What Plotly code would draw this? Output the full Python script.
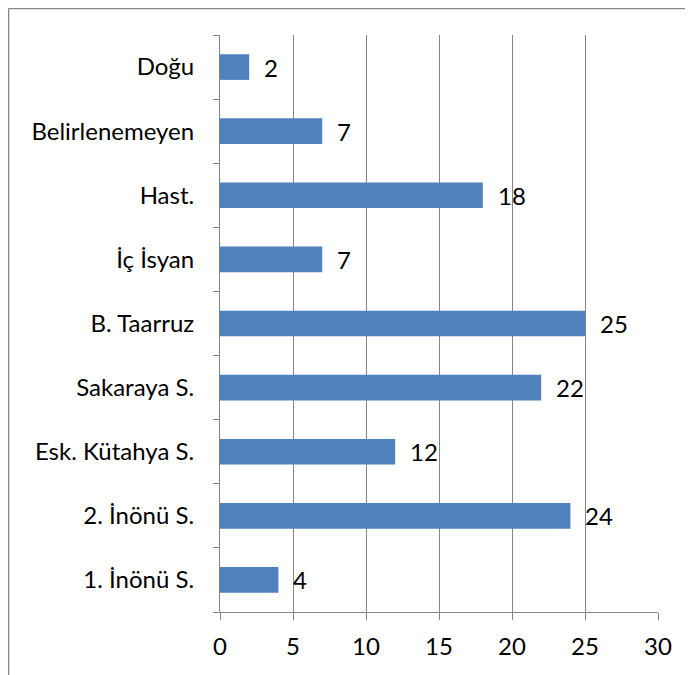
import plotly.graph_objects as go

categories = ["1. İnönü S.", "2. İnönü S.", "Esk. Kütahya S.", "Sakaraya S.", "B. Taarruz",
              "İç İsyan", "Hast.", "Belirlenemeyen", "Doğu"]
values = [4, 24, 12, 22, 25, 7, 18, 7, 2]
x_ticks = [0, 5, 10, 15, 20, 25, 30]

FONT = "Lato, Open Sans, sans-serif"
FS = 24

# page has an 8px body margin; figure is sized so it fills the window exactly
W, H = 685, 667
L, R, T, B = 212, 35, 27, 63
PW, PH = W - L - R, H - T - B

fig = go.Figure()
fig.add_trace(go.Bar(
    y=categories, x=values, orientation="h",
    marker=dict(color="#4F81BD", line=dict(width=0)),
    width=0.4,
))

annotations = []
for c, v in zip(categories, values):
    annotations.append(dict(x=v, y=c, xref="x", yref="y", text=str(v), showarrow=False,
                            xanchor="left", xshift=13, font=dict(size=FS, color="black", family=FONT)))

fx = lambda px: (px - L) / PW
fy = lambda py: (H - B - py) / PH

fig.update_layout(
    width=W, height=H,
    margin=dict(l=L, r=R, t=T, b=B),
    paper_bgcolor="white", plot_bgcolor="white",
    showlegend=False,
    font=dict(family=FONT, size=FS, color="black"),
    annotations=annotations,
    xaxis=dict(range=[0, 30], tickvals=x_ticks, showgrid=True, gridcolor="#868686", gridwidth=1,
               showline=True, linecolor="#868686", linewidth=1, ticks="outside", ticklen=7,
               tickcolor="#868686", zeroline=False, tickfont=dict(size=FS, family=FONT),
               ticklabelstandoff=6),
    yaxis=dict(categoryorder="array", categoryarray=categories, showline=True, linecolor="#868686",
               linewidth=1, ticks="outside", ticklen=6, tickcolor="#868686", tickson="boundaries",
               showgrid=False, tickfont=dict(size=FS, family=FONT), ticklabelstandoff=20),
    shapes=[
        dict(type="line", xref="paper", yref="paper", x0=fx(0.5), x1=fx(0.5),
             y0=fy(0.5), y1=fy(H + 5), line=dict(color="#868686", width=1.5)),
        dict(type="line", xref="paper", yref="paper", x0=fx(0.5), x1=fx(W + 5),
             y0=fy(0.5), y1=fy(0.5), line=dict(color="#868686", width=1.5)),
    ],
)

fig.write_html("out.html")
